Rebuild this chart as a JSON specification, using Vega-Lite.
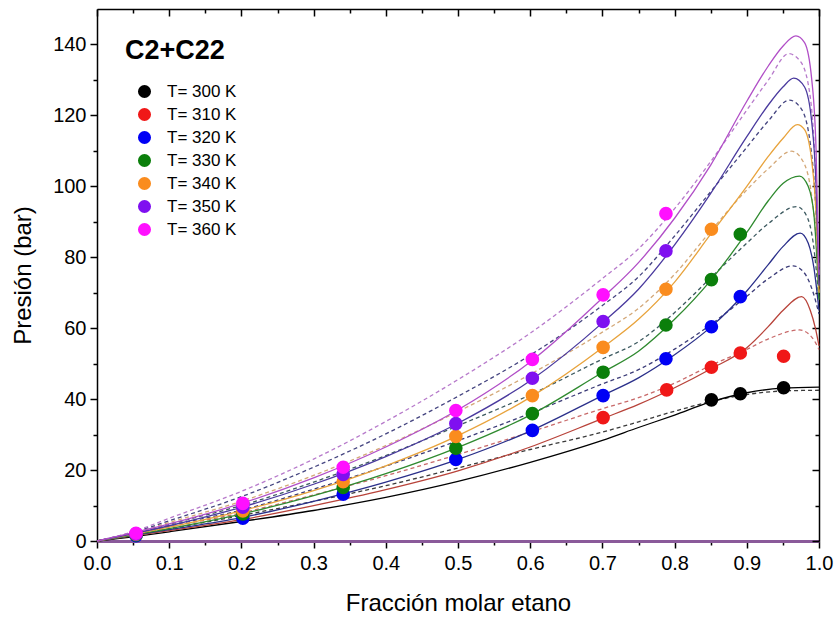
{
  "$schema": "https://vega.github.io/schema/vega-lite/v6.json",
  "width": 722,
  "height": 532,
  "autosize": {"type": "none"},
  "padding": {"left": 97, "top": 9, "right": 18, "bottom": 82},
  "background": "white",
  "config": {
    "view": {"stroke": null},
    "font": "Liberation Sans",
    "axis": {"grid": false, "labelFlush": false, "domainColor": "black", "tickColor": "black", "labelColor": "black", "titleColor": "black", "labelFont": "Liberation Sans", "titleFont": "Liberation Sans", "titleFontWeight": "normal"}
  },
  "datasets": {
    "solidas": [
      {"c":"300a","x":0,"p":0},{"c":"300a","x":0.054,"p":1.3},{"c":"300a","x":0.1,"p":2.6},{"c":"300a","x":0.2,"p":5.5},{"c":"300a","x":0.3,"p":8.6},{"c":"300a","x":0.4,"p":12.3},{"c":"300a","x":0.5,"p":16.8},{"c":"300a","x":0.6,"p":22.2},{"c":"300a","x":0.7,"p":28.4},{"c":"300a","x":0.75,"p":32},{"c":"300a","x":0.8,"p":35.5},{"c":"300a","x":0.85,"p":39.2},{"c":"300a","x":0.9,"p":41.8},{"c":"300a","x":0.95,"p":43.1},{"c":"300a","x":1.0,"p":43.4},
      {"c":"310a","x":0,"p":0},{"c":"310a","x":0.1,"p":2.9},{"c":"310a","x":0.2,"p":6.0},{"c":"310a","x":0.3,"p":10},{"c":"310a","x":0.4,"p":14.5},{"c":"310a","x":0.5,"p":19.8},{"c":"310a","x":0.6,"p":26.5},{"c":"310a","x":0.7,"p":34.5},{"c":"310a","x":0.75,"p":38.5},{"c":"310a","x":0.8,"p":43.2},{"c":"310a","x":0.85,"p":48.5},{"c":"310a","x":0.9,"p":54.5},{"c":"310a","x":0.93,"p":60.5},{"c":"310a","x":0.95,"p":65},{"c":"310a","x":0.976,"p":68.9},{"c":"310a","x":0.988,"p":65},{"c":"310a","x":0.995,"p":60},{"c":"310a","x":1.0,"p":55},
      {"c":"320a","x":0,"p":0},{"c":"320a","x":0.1,"p":3.2},{"c":"320a","x":0.2,"p":6.6},{"c":"320a","x":0.3,"p":11.2},{"c":"320a","x":0.4,"p":16.6},{"c":"320a","x":0.5,"p":23.0},{"c":"320a","x":0.6,"p":31},{"c":"320a","x":0.7,"p":41},{"c":"320a","x":0.75,"p":46},{"c":"320a","x":0.8,"p":52.5},{"c":"320a","x":0.85,"p":60.3},{"c":"320a","x":0.9,"p":70.5},{"c":"320a","x":0.93,"p":78},{"c":"320a","x":0.95,"p":83},{"c":"320a","x":0.974,"p":86.8},{"c":"320a","x":0.985,"p":84},{"c":"320a","x":0.993,"p":77},{"c":"320a","x":1.0,"p":65},
      {"c":"330a","x":0,"p":0},{"c":"330a","x":0.1,"p":3.5},{"c":"330a","x":0.2,"p":7.6},{"c":"330a","x":0.3,"p":12.8},{"c":"330a","x":0.4,"p":19},{"c":"330a","x":0.5,"p":26.4},{"c":"330a","x":0.6,"p":35.5},{"c":"330a","x":0.7,"p":47.5},{"c":"330a","x":0.75,"p":53.5},{"c":"330a","x":0.8,"p":62.5},{"c":"330a","x":0.85,"p":73.5},{"c":"330a","x":0.9,"p":87},{"c":"330a","x":0.93,"p":96},{"c":"330a","x":0.95,"p":100.8},{"c":"330a","x":0.973,"p":102.9},{"c":"330a","x":0.985,"p":100},{"c":"330a","x":0.993,"p":92},{"c":"330a","x":1.0,"p":68},
      {"c":"340a","x":0,"p":0},{"c":"340a","x":0.1,"p":3.9},{"c":"340a","x":0.2,"p":8.5},{"c":"340a","x":0.3,"p":14.2},{"c":"340a","x":0.4,"p":21.2},{"c":"340a","x":0.5,"p":29.7},{"c":"340a","x":0.6,"p":40.5},{"c":"340a","x":0.7,"p":54.5},{"c":"340a","x":0.75,"p":62.5},{"c":"340a","x":0.8,"p":73},{"c":"340a","x":0.85,"p":86.5},{"c":"340a","x":0.9,"p":100},{"c":"340a","x":0.93,"p":108.5},{"c":"340a","x":0.95,"p":113.5},{"c":"340a","x":0.97,"p":117.4},{"c":"340a","x":0.98,"p":116},{"c":"340a","x":0.99,"p":107},{"c":"340a","x":0.996,"p":92},{"c":"340a","x":1.0,"p":70},
      {"c":"350a","x":0,"p":0},{"c":"350a","x":0.1,"p":4.3},{"c":"350a","x":0.2,"p":9.5},{"c":"350a","x":0.3,"p":16},{"c":"350a","x":0.4,"p":23.8},{"c":"350a","x":0.5,"p":33.2},{"c":"350a","x":0.6,"p":45.2},{"c":"350a","x":0.7,"p":61.5},{"c":"350a","x":0.75,"p":71},{"c":"350a","x":0.8,"p":83.5},{"c":"350a","x":0.85,"p":98},{"c":"350a","x":0.9,"p":114},{"c":"350a","x":0.93,"p":123},{"c":"350a","x":0.95,"p":128},{"c":"350a","x":0.965,"p":130.5},{"c":"350a","x":0.98,"p":128},{"c":"350a","x":0.99,"p":118},{"c":"350a","x":0.996,"p":100},{"c":"350a","x":1.0,"p":72},
      {"c":"360a","x":0,"p":0},{"c":"360a","x":0.1,"p":4.8},{"c":"360a","x":0.2,"p":10.6},{"c":"360a","x":0.3,"p":17.8},{"c":"360a","x":0.4,"p":26.5},{"c":"360a","x":0.5,"p":37},{"c":"360a","x":0.6,"p":50.5},{"c":"360a","x":0.7,"p":68.5},{"c":"360a","x":0.75,"p":78.5},{"c":"360a","x":0.8,"p":91},{"c":"360a","x":0.85,"p":106},{"c":"360a","x":0.9,"p":124},{"c":"360a","x":0.93,"p":134},{"c":"360a","x":0.95,"p":139.5},{"c":"360a","x":0.968,"p":142.4},{"c":"360a","x":0.98,"p":140.5},{"c":"360a","x":0.99,"p":130},{"c":"360a","x":0.996,"p":110},{"c":"360a","x":1.0,"p":75}
    ],
    "discontinuas": [
      {"c":"300b","x":0,"p":0},{"c":"300b","x":0.054,"p":1.7},{"c":"300b","x":0.1,"p":3.4},{"c":"300b","x":0.2,"p":7.2},{"c":"300b","x":0.3,"p":11.2},{"c":"300b","x":0.4,"p":15.6},{"c":"300b","x":0.5,"p":20.6},{"c":"300b","x":0.6,"p":25.8},{"c":"300b","x":0.7,"p":30.7},{"c":"300b","x":0.75,"p":33.6},{"c":"300b","x":0.8,"p":36.6},{"c":"300b","x":0.85,"p":39.3},{"c":"300b","x":0.9,"p":41.3},{"c":"300b","x":0.95,"p":42.3},{"c":"300b","x":1.0,"p":42.5},
      {"c":"310b","x":0,"p":0},{"c":"310b","x":0.054,"p":1.8},{"c":"310b","x":0.1,"p":3.9},{"c":"310b","x":0.2,"p":7.9},{"c":"310b","x":0.3,"p":13},{"c":"310b","x":0.4,"p":18.4},{"c":"310b","x":0.5,"p":24.4},{"c":"310b","x":0.6,"p":30.7},{"c":"310b","x":0.7,"p":37.3},{"c":"310b","x":0.75,"p":40.4},{"c":"310b","x":0.8,"p":44.5},{"c":"310b","x":0.85,"p":49.5},{"c":"310b","x":0.9,"p":54},{"c":"310b","x":0.93,"p":57},{"c":"310b","x":0.973,"p":59.5},{"c":"310b","x":0.985,"p":58.5},{"c":"310b","x":0.995,"p":56},{"c":"310b","x":1.0,"p":54},
      {"c":"320b","x":0,"p":0},{"c":"320b","x":0.054,"p":2.0},{"c":"320b","x":0.1,"p":4.3},{"c":"320b","x":0.2,"p":8.7},{"c":"320b","x":0.3,"p":14.6},{"c":"320b","x":0.4,"p":21.1},{"c":"320b","x":0.5,"p":28.3},{"c":"320b","x":0.6,"p":36},{"c":"320b","x":0.7,"p":44.3},{"c":"320b","x":0.75,"p":48.3},{"c":"320b","x":0.8,"p":54.1},{"c":"320b","x":0.85,"p":61},{"c":"320b","x":0.9,"p":69},{"c":"320b","x":0.93,"p":74},{"c":"320b","x":0.964,"p":77.6},{"c":"320b","x":0.98,"p":75.5},{"c":"320b","x":0.992,"p":70},{"c":"320b","x":1.0,"p":64},
      {"c":"330b","x":0,"p":0},{"c":"330b","x":0.054,"p":2.1},{"c":"330b","x":0.1,"p":4.7},{"c":"330b","x":0.2,"p":10},{"c":"330b","x":0.3,"p":16.6},{"c":"330b","x":0.4,"p":24.1},{"c":"330b","x":0.5,"p":32.5},{"c":"330b","x":0.6,"p":41.2},{"c":"330b","x":0.7,"p":51.3},{"c":"330b","x":0.75,"p":56.2},{"c":"330b","x":0.8,"p":64.4},{"c":"330b","x":0.85,"p":74.2},{"c":"330b","x":0.9,"p":84},{"c":"330b","x":0.93,"p":89.5},{"c":"330b","x":0.969,"p":94.3},{"c":"330b","x":0.982,"p":92},{"c":"330b","x":0.992,"p":84},{"c":"330b","x":1.0,"p":68},
      {"c":"340b","x":0,"p":0},{"c":"340b","x":0.054,"p":2.4},{"c":"340b","x":0.1,"p":5.2},{"c":"340b","x":0.2,"p":11.2},{"c":"340b","x":0.3,"p":18.5},{"c":"340b","x":0.4,"p":26.9},{"c":"340b","x":0.5,"p":36.5},{"c":"340b","x":0.6,"p":47},{"c":"340b","x":0.7,"p":58.9},{"c":"340b","x":0.75,"p":65.6},{"c":"340b","x":0.8,"p":75.2},{"c":"340b","x":0.85,"p":87.4},{"c":"340b","x":0.9,"p":99},{"c":"340b","x":0.93,"p":105},{"c":"340b","x":0.962,"p":109.9},{"c":"340b","x":0.978,"p":107},{"c":"340b","x":0.99,"p":97},{"c":"340b","x":0.996,"p":85},{"c":"340b","x":1.0,"p":70},
      {"c":"350b","x":0,"p":0},{"c":"350b","x":0.054,"p":2.7},{"c":"350b","x":0.1,"p":5.7},{"c":"350b","x":0.2,"p":12.5},{"c":"350b","x":0.3,"p":20.8},{"c":"350b","x":0.4,"p":30.2},{"c":"350b","x":0.5,"p":40.8},{"c":"350b","x":0.6,"p":52.4},{"c":"350b","x":0.7,"p":66.4},{"c":"350b","x":0.75,"p":74.5},{"c":"350b","x":0.8,"p":86},{"c":"350b","x":0.85,"p":98.5},{"c":"350b","x":0.9,"p":111},{"c":"350b","x":0.93,"p":118.5},{"c":"350b","x":0.959,"p":124.3},{"c":"350b","x":0.975,"p":122},{"c":"350b","x":0.988,"p":112},{"c":"350b","x":0.996,"p":92},{"c":"350b","x":1.0,"p":72},
      {"c":"360b","x":0,"p":0},{"c":"360b","x":0.054,"p":2.9},{"c":"360b","x":0.1,"p":6.4},{"c":"360b","x":0.2,"p":14.0},{"c":"360b","x":0.3,"p":23.1},{"c":"360b","x":0.4,"p":33.7},{"c":"360b","x":0.5,"p":45.5},{"c":"360b","x":0.6,"p":58.6},{"c":"360b","x":0.7,"p":74.0},{"c":"360b","x":0.75,"p":82.4},{"c":"360b","x":0.8,"p":93.7},{"c":"360b","x":0.85,"p":107},{"c":"360b","x":0.9,"p":121.5},{"c":"360b","x":0.93,"p":130},{"c":"360b","x":0.958,"p":137.4},{"c":"360b","x":0.975,"p":135},{"c":"360b","x":0.988,"p":125},{"c":"360b","x":0.996,"p":100},{"c":"360b","x":1.0,"p":75}
    ],
    "puntos": [
      {"s":"T= 300 K","x":0.851,"p":39.8},{"s":"T= 300 K","x":0.891,"p":41.5},{"s":"T= 300 K","x":0.951,"p":43.2},
      {"s":"T= 310 K","x":0.701,"p":34.8},{"s":"T= 310 K","x":0.789,"p":42.6},{"s":"T= 310 K","x":0.851,"p":49.0},{"s":"T= 310 K","x":0.891,"p":53.0},{"s":"T= 310 K","x":0.951,"p":52.1},
      {"s":"T= 320 K","x":0.054,"p":1.5},{"s":"T= 320 K","x":0.202,"p":6.4},{"s":"T= 320 K","x":0.341,"p":13.2},{"s":"T= 320 K","x":0.497,"p":23.0},{"s":"T= 320 K","x":0.603,"p":31.2},{"s":"T= 320 K","x":0.701,"p":41.0},{"s":"T= 320 K","x":0.788,"p":51.4},{"s":"T= 320 K","x":0.851,"p":60.4},{"s":"T= 320 K","x":0.891,"p":68.9},
      {"s":"T= 330 K","x":0.054,"p":1.7},{"s":"T= 330 K","x":0.202,"p":7.6},{"s":"T= 330 K","x":0.341,"p":15.1},{"s":"T= 330 K","x":0.497,"p":26.2},{"s":"T= 330 K","x":0.603,"p":35.9},{"s":"T= 330 K","x":0.701,"p":47.6},{"s":"T= 330 K","x":0.788,"p":60.9},{"s":"T= 330 K","x":0.851,"p":73.7},{"s":"T= 330 K","x":0.891,"p":86.5},
      {"s":"T= 340 K","x":0.054,"p":1.9},{"s":"T= 340 K","x":0.202,"p":8.5},{"s":"T= 340 K","x":0.341,"p":16.7},{"s":"T= 340 K","x":0.497,"p":29.5},{"s":"T= 340 K","x":0.603,"p":41.0},{"s":"T= 340 K","x":0.701,"p":54.6},{"s":"T= 340 K","x":0.788,"p":71.0},{"s":"T= 340 K","x":0.851,"p":87.9},
      {"s":"T= 350 K","x":0.054,"p":2.0},{"s":"T= 350 K","x":0.202,"p":9.5},{"s":"T= 350 K","x":0.341,"p":18.8},{"s":"T= 350 K","x":0.497,"p":33.1},{"s":"T= 350 K","x":0.603,"p":45.9},{"s":"T= 350 K","x":0.701,"p":61.9},{"s":"T= 350 K","x":0.788,"p":81.8},
      {"s":"T= 360 K","x":0.054,"p":2.2},{"s":"T= 360 K","x":0.202,"p":10.6},{"s":"T= 360 K","x":0.341,"p":20.8},{"s":"T= 360 K","x":0.497,"p":36.8},{"s":"T= 360 K","x":0.603,"p":51.2},{"s":"T= 360 K","x":0.701,"p":69.4},{"s":"T= 360 K","x":0.788,"p":92.3}
    ]
  },
  "layer": [
    {
      "data": {"name": "discontinuas"},
      "mark": {"type": "line", "interpolate": "monotone", "strokeWidth": 1.3, "strokeDash": [4, 3]},
      "encoding": {
        "x": {"field": "x", "type": "quantitative", "scale": {"domain": [0, 1], "nice": false},
          "axis": {"orient": "bottom", "values": [0.05,0.15,0.25,0.35,0.45,0.55,0.65,0.75,0.85,0.95], "labels": false, "domain": false, "tickSize": 4, "tickWidth": 1.5, "title": null}},
        "y": {"field": "p", "type": "quantitative", "scale": {"domain": [0, 150], "nice": false},
          "axis": {"orient": "left", "values": [10,30,50,70,90,110,130], "labels": false, "domain": false, "tickSize": 4, "tickWidth": 1.5, "title": null}},
        "color": {"field": "c", "type": "nominal", "legend": null,
          "scale": {"domain": ["300b","310b","320b","330b","340b","350b","360b"], "range": ["#3a3a3a","#c86a6a","#3c3c78","#3d5a60","#d4a878","#454580","#b77acb"]}}
      }
    },
    {
      "data": {"name": "solidas"},
      "mark": {"type": "line", "interpolate": "monotone", "strokeWidth": 1.3},
      "encoding": {
        "x": {"field": "x", "type": "quantitative",
          "axis": {"orient": "bottom", "values": [0,0.1,0.2,0.3,0.4,0.5,0.6,0.7,0.8,0.9,1.0], "format": ".1f", "labelFontSize": 20, "tickSize": 7, "tickWidth": 1.5, "domainColor": "#8a5a9a", "domainWidth": 3, "labelPadding": 5, "title": "Fracción molar etano", "titleFontSize": 24, "titlePadding": 18}},
        "y": {"field": "p", "type": "quantitative",
          "axis": {"orient": "left", "values": [0,20,40,60,80,100,120,140], "labelFontSize": 20, "tickSize": 7, "tickWidth": 1.5, "domainWidth": 1.5, "labelPadding": 4, "title": "Presión (bar)", "titleFontSize": 24, "titlePadding": 17}},
        "color": {"field": "c", "type": "nominal", "legend": null,
          "scale": {"domain": ["300a","310a","320a","330a","340a","350a","360a"], "range": ["#000000","#b8433a","#2a2f8a","#2f8a2f","#e8a33c","#4a3a9e","#b14fc7"]}}
      }
    },
    {
      "data": {"name": "puntos"},
      "mark": {"type": "circle", "opacity": 0},
      "encoding": {
        "x": {"field": "x", "type": "quantitative",
          "axis": {"orient": "top", "values": [0.05,0.15,0.25,0.35,0.45,0.55,0.65,0.75,0.85,0.95], "labels": false, "domain": false, "tickSize": -4, "tickWidth": 1.5, "title": null}},
        "y": {"field": "p", "type": "quantitative",
          "axis": {"orient": "right", "values": [10,30,50,70,90,110,130], "labels": false, "domain": false, "tickSize": -4, "tickWidth": 1.5, "title": null}}
      }
    },
    {
      "data": {"name": "puntos"},
      "mark": {"type": "circle", "size": 185, "opacity": 1},
      "encoding": {
        "x": {"field": "x", "type": "quantitative",
          "axis": {"orient": "top", "values": [0,0.1,0.2,0.3,0.4,0.5,0.6,0.7,0.8,0.9,1.0], "labels": false, "tickSize": -7, "tickWidth": 1.5, "domainWidth": 1.5, "title": null}},
        "y": {"field": "p", "type": "quantitative",
          "axis": {"orient": "right", "values": [0,20,40,60,80,100,120,140], "labels": false, "tickSize": -7, "tickWidth": 1.5, "domainWidth": 1.5, "title": null}},
        "color": {"field": "s", "type": "nominal",
          "scale": {"domain": ["T= 300 K","T= 310 K","T= 320 K","T= 330 K","T= 340 K","T= 350 K","T= 360 K"], "range": ["#000000","#f01818","#0000f5","#0b7f0b","#fa8c1e","#7f10f0","#ff10ff"]},
          "legend": {"orient": "none", "legendX": 28, "legendY": 29, "title": "C2+C22", "titleFontSize": 27, "titleFontWeight": "bold", "titleFont": "Liberation Sans", "titleColor": "black", "titlePadding": 18, "labelFontSize": 17, "labelFont": "Liberation Sans", "labelColor": "black", "symbolType": "circle", "symbolSize": 170, "symbolStrokeWidth": 0, "symbolOffset": 11, "labelOffset": 14, "rowPadding": 5, "padding": 0}}
      }
    }
  ],
  "resolve": {"scale": {"color": "independent"}, "axis": {"x": "independent", "y": "independent"}}
}
